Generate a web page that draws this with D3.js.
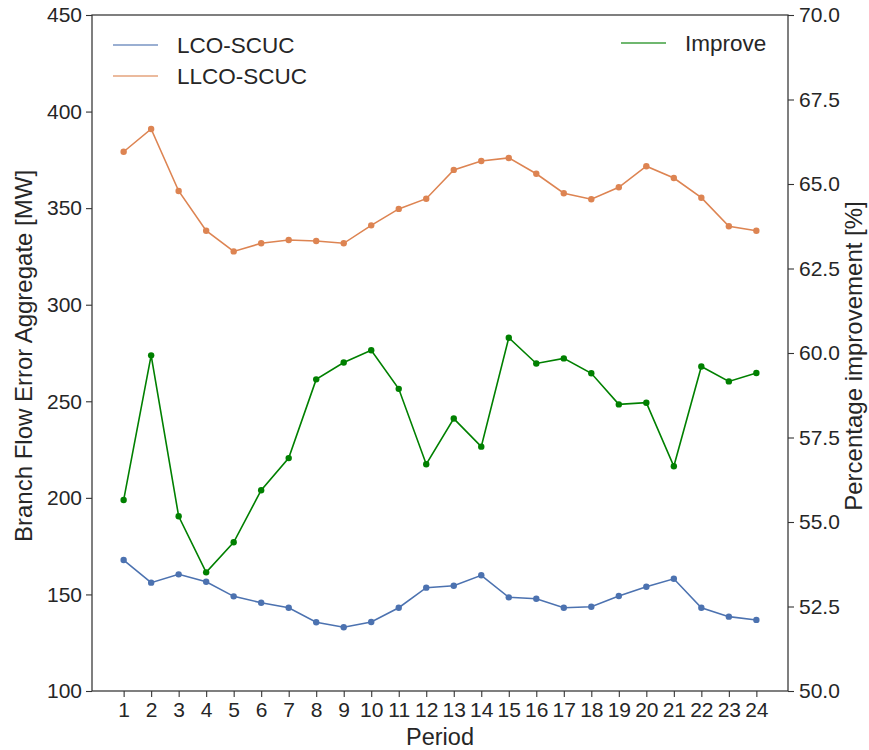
<!DOCTYPE html>
<html>
<head>
<meta charset="utf-8">
<script src="https://cdn.jsdelivr.net/npm/d3@7"></script>
<style>
  html, body { margin: 0; padding: 0; background: #fff; }
  svg { display: block; font-family: "Liberation Sans", Arial, sans-serif; }
</style>
</head>
<body>
<svg id="chart" width="869" height="750"></svg>
<script>
// Periods of the scheduling horizon
const periods = d3.range(1, 25);

// Aggregate branch-flow error [MW] per period
const lcoScuc = [167.8, 156.1, 160.4, 156.6, 149.0, 145.7, 143.1, 135.6, 133.0, 135.7, 143.1, 153.5,
                 154.5, 159.9, 148.5, 147.8, 143.1, 143.6, 149.2, 154.0, 158.1, 143.1, 138.5, 136.8];
const llcoScuc = [379.2, 391.0, 358.9, 338.3, 327.6, 331.8, 333.5, 333.0, 331.8, 341.1, 349.6, 354.9,
                  369.8, 374.4, 376.0, 367.8, 357.7, 354.6, 360.8, 371.7, 365.6, 355.4, 340.6, 338.3];

// Percentage improvement [%] per period
const improve = [55.65, 59.93, 55.17, 53.51, 54.40, 55.94, 56.89, 59.22, 59.72, 60.08, 58.94, 56.71,
                 58.06, 57.23, 60.45, 59.69, 59.84, 59.40, 58.48, 58.53, 56.65, 59.60, 59.16, 59.41];

const leftTicks = [100, 150, 200, 250, 300, 350, 400, 450];
const rightTicks = [50.0, 52.5, 55.0, 57.5, 60.0, 62.5, 65.0, 67.5, 70.0];

const colors = { lco: "#4C72B0", llco: "#DD8452", improve: "#008000" };
const textColor = "#262626";

const svg = d3.select("#chart");
const plot = { left: 92, right: 788, top: 15, bottom: 691 };

const x = d3.scaleLinear().domain([-0.15, 25.15]).range([plot.left, plot.right]);
const yL = d3.scaleLinear().domain([100, 450]).range([plot.bottom, plot.top]);
const yR = d3.scaleLinear().domain([50, 70]).range([plot.bottom, plot.top]);

// Axes
function styleAxis(g) {
  g.select(".domain").remove();
  g.selectAll(".tick line").attr("stroke", "#333").attr("stroke-width", 1.1);
  g.selectAll(".tick text").attr("fill", textColor).attr("font-size", 21);
}

svg.append("g")
  .attr("transform", `translate(0,${plot.bottom})`)
  .call(d3.axisBottom(x).tickValues(periods).tickFormat(d3.format("d")).tickSize(6).tickPadding(5))
  .call(styleAxis);

svg.append("g")
  .attr("transform", `translate(${plot.left},0)`)
  .call(d3.axisLeft(yL).tickValues(leftTicks).tickFormat(d3.format("d")).tickSize(6).tickPadding(4))
  .call(styleAxis);

svg.append("g")
  .attr("transform", `translate(${plot.right},0)`)
  .call(d3.axisRight(yR).tickValues(rightTicks).tickFormat(d3.format(".1f")).tickSize(6).tickPadding(5))
  .call(styleAxis);

// Frame
svg.append("rect")
  .attr("x", plot.left).attr("y", plot.top)
  .attr("width", plot.right - plot.left).attr("height", plot.bottom - plot.top)
  .attr("fill", "none").attr("stroke", "#333").attr("stroke-width", 1.25);

// Series
function drawSeries(values, yScale, color) {
  const pts = values.map((v, i) => [x(periods[i]), yScale(v)]);
  svg.append("path")
    .attr("d", d3.line()(pts))
    .attr("fill", "none").attr("stroke", color).attr("stroke-width", 1.6);
  svg.append("g").selectAll("circle").data(pts).join("circle")
    .attr("cx", d => d[0]).attr("cy", d => d[1]).attr("r", 3.2)
    .attr("fill", color);
}
drawSeries(lcoScuc, yL, colors.lco);
drawSeries(llcoScuc, yL, colors.llco);
drawSeries(improve, yR, colors.improve);

// Axis labels
const midY = 356;
svg.append("text")
  .attr("transform", `translate(32,${midY}) rotate(-90)`)
  .attr("text-anchor", "middle").attr("fill", textColor).attr("font-size", 24)
  .text("Branch Flow Error Aggregate [MW]");

svg.append("text")
  .attr("transform", `translate(862,${midY}) rotate(-90)`)
  .attr("text-anchor", "middle").attr("fill", textColor).attr("font-size", 24)
  .text("Percentage improvement [%]");

svg.append("text")
  .attr("x", (plot.left + plot.right) / 2).attr("y", 745)
  .attr("text-anchor", "middle").attr("fill", textColor).attr("font-size", 23.5)
  .text("Period");

// Legends
function legendItem(x0, y0, color, label) {
  svg.append("line")
    .attr("x1", x0).attr("x2", x0 + 45).attr("y1", y0).attr("y2", y0)
    .attr("stroke", color).attr("stroke-width", 1.6).attr("opacity", 0.75);
  svg.append("text")
    .attr("x", x0 + 64).attr("y", y0).attr("dy", "0.35em")
    .attr("fill", textColor).attr("font-size", 22.5)
    .text(label);
}
legendItem(113, 45, colors.lco, "LCO-SCUC");
legendItem(113, 76, colors.llco, "LLCO-SCUC");
legendItem(621, 43, colors.improve, "Improve");
</script>
</body>
</html>
